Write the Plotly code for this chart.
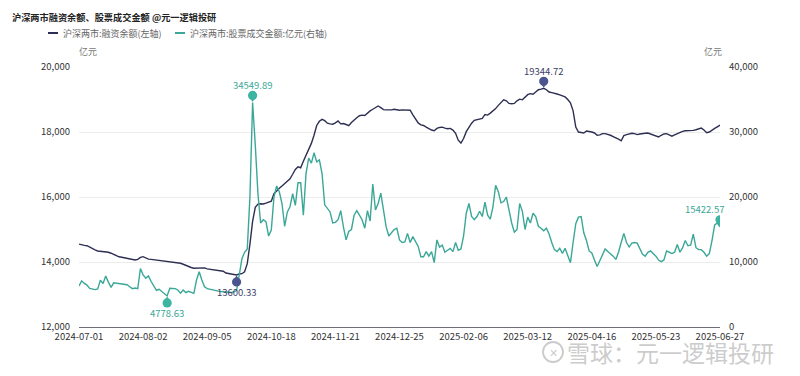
import pandas as pd
import numpy as np
import plotly.graph_objects as go

# ---------------- data ----------------
holidays = ["2024-09-16", "2024-09-17", "2024-10-01", "2024-10-02", "2024-10-03",
            "2024-10-04", "2024-10-07", "2025-01-01", "2025-01-28", "2025-01-29",
            "2025-01-30", "2025-01-31", "2025-02-03", "2025-02-04", "2025-04-04",
            "2025-05-01", "2025-05-02", "2025-05-05", "2025-06-02"]
dates = [d.strftime("%Y-%m-%d") for d in pd.bdate_range("2024-07-01", "2025-06-27")
         if d.strftime("%Y-%m-%d") not in holidays]

# 沪深两市:融资余额 (亿元, left axis)
margin = [
    14550, 14520, 14510, 14500, 14450, 14400, 14370, 14340, 14330, 14320,
    14315, 14300, 14270, 14230, 14200, 14160, 14145, 14130, 14110, 14090,
    14070, 14060, 14080, 14140, 14165, 14120, 14090, 14080, 14070, 14060,
    14045, 14040, 14030, 14015, 14010, 14000, 13985, 13970, 13960, 13930,
    13890, 13860, 13830, 13810, 13815, 13830, 13837, 13820, 13790, 13775,
    13770, 13760, 13745, 13730, 13715, 13660, 13650, 13640, 13620, 13600.33,
    13630, 13640, 13700, 13950, 14550, 15250, 15680, 15780, 15790, 15785,
    15810, 15840, 15870, 16100, 16200, 16270, 16340, 16410, 16480, 16560,
    16700, 16850, 16930, 16900, 17100, 17280, 17420, 17650, 17900, 18200,
    18330, 18390, 18350, 18270, 18250, 18240, 18280, 18340, 18250, 18260,
    18230, 18195, 18290, 18380, 18440, 18500, 18520, 18510, 18590, 18650,
    18700, 18760, 18800, 18750, 18690, 18680, 18670, 18680, 18700, 18680,
    18670, 18680, 18670, 18680, 18670, 18530, 18400, 18280, 18220, 18200,
    18150, 18100, 18060, 18040, 18110, 18140, 18150, 18120, 18100, 18110,
    18060, 17960, 17750, 17660, 17800, 18010, 18150, 18270, 18360, 18380,
    18380, 18420, 18540, 18520, 18580, 18650, 18720, 18820, 18900, 18990,
    18960, 18880, 18870, 18880, 18960, 19010, 18990, 19060, 19150, 19180,
    19160, 19230, 19300, 19320, 19344.72, 19300, 19230, 19210, 19200, 19170,
    19140, 19110, 19080, 19000, 18900, 18650, 18150, 18000, 17990, 17970,
    18030, 18020, 18000, 17970, 17900, 17910, 17950, 17950, 17930, 17900,
    17860, 17830, 17780, 17730, 17890, 17920, 17950, 17960, 17950, 17920,
    17940, 17960, 17960, 17970, 17940, 17910, 17880, 17850, 17900, 17940,
    17950, 17900, 17870, 17910, 17950, 17990, 18020, 18040, 18040, 18060,
    18050, 18070, 18100, 18120, 18060, 17980, 18000, 18070, 18110, 18160,
    18210,
]

# 沪深两市:股票成交金额 (亿元, right axis)
turnover = [
    6300, 7100, 6700, 6450, 5950, 5800, 5750, 5850, 7200, 6700,
    7850, 6900, 6100, 6800, 6750, 6700, 6700, 6650, 6500, 6200,
    5900, 6000, 5900, 9000, 8000, 7500, 7850, 7000, 6200, 5650,
    5800, 5500, 5185, 4778.63, 5950, 5900, 5900, 5700, 5200, 5700,
    5300, 5500, 5400, 5185, 7230, 8500, 7230, 6200, 5900, 5800,
    5700, 5600, 5550, 5450, 5430, 5350, 5280, 5300, 5400, 5600,
    8000, 10500, 11500, 12000, 20000, 34549.89, 28000, 20500, 16000, 16500,
    16200, 14000, 14900, 20000, 21700, 20800, 19000, 15500, 17700, 18500,
    20500, 18700, 22200, 22200, 17200, 23600, 26000, 25200, 26800, 25400,
    25700, 23600, 18800, 18300, 17700, 16000, 16100, 16500, 17900, 15400,
    13400, 14700, 15000, 17200, 17900, 17200, 16500, 15200, 17900, 16300,
    22000, 18000, 19000, 20600, 17800, 15400, 14000, 14600, 15000, 15200,
    13400, 13000, 13100, 14400, 13000, 13900, 13200, 12400, 10800, 10800,
    11600, 10900, 11600, 9900, 13400, 12300, 12600, 11500, 11800, 12100,
    11600, 13000, 11800, 12000, 14000, 17500, 19000, 17000, 16500, 17000,
    17800, 17000, 19200, 17200, 16600, 18500, 21800, 20800, 19100, 19300,
    20000, 18000, 16000, 14600, 15000, 19000, 17800, 15000, 16900, 16000,
    17500, 17000, 15500, 15200, 14800, 15200, 14300, 13000, 11900, 11600,
    12100, 11300, 12100, 11000, 9900, 13000, 15900, 16900, 17000, 14500,
    13300, 11700, 11400, 10300, 9300, 10200, 11000, 12000, 11600, 11300,
    10900, 10400, 11500, 13000, 14400, 13000, 12300, 12900, 13000, 12900,
    12000, 11200, 10900, 11500, 11700, 11300, 10900, 10300, 10050, 10300,
    11700, 11500, 11300, 11500, 12700, 11500, 12200, 13300, 12500, 12600,
    14300, 12200, 11900, 11900, 11500, 10900, 11300, 13300, 15700, 16000,
    15422.57,
]

name_margin = "沪深两市:融资余额(左轴)"
name_turnover = "沪深两市:股票成交金额:亿元(右轴)"
title_text = "沪深两市融资余额、股票成交金额 @元一逻辑投研"
tick_dates = dates[::24]

# ---------------- style ----------------
NAVY = "#2d2f52"
NAVY_PIN = "#4a5590"
TEAL = "#3aa797"
TEAL_PIN = "#3db3a2"
FONT = "Noto Sans CJK SC"
OFF = 8                       # default page body margin of the html page
VW, VH = 800, 376             # viewport
PL, PR, PT, PB = 79, 720, 67, 327   # plot area in page pixels
W, H = VW - OFF, VH - OFF
L, T = PL - OFF, PT - OFF
R, B = OFF + W - PR, OFF + H - PB
PW, PH = PR - PL, PB - PT


def px_x(px):
    return (px - PL) / PW


def px_y(py):
    return (PB - py) / PH


fig = go.Figure()
fig.add_trace(go.Scatter(x=dates, y=margin, mode="lines", name=name_margin,
                         line=dict(color=NAVY, width=1.4), yaxis="y"))
fig.add_trace(go.Scatter(x=dates, y=turnover, mode="lines", name=name_turnover,
                         line=dict(color=TEAL, width=1.4), yaxis="y2"))

shapes = []
annotations = []


def add_pin(i, series, yref, color, label_color, up=True):
    d, v = dates[i], series[i]
    s = 1 if up else -1
    shapes.append(dict(type="circle", xref="x", yref=yref, xsizemode="pixel", ysizemode="pixel",
                       xanchor=d, yanchor=v, x0=-4.6, x1=4.6,
                       y0=s * 2.4, y1=s * 11.6, fillcolor=color, line=dict(width=0)))
    shapes.append(dict(type="path", xref="x", yref=yref, xsizemode="pixel", ysizemode="pixel",
                       xanchor=d, yanchor=v,
                       path=f"M-3,{s*5} L3,{s*5} L0,{s*0.5} Z",
                       fillcolor=color, line=dict(width=0)))
    annotations.append(dict(x=d, y=v, xref="x", yref=yref, showarrow=False,
                            text=f"{v:.2f}", yshift=s * 17.5,
                            font=dict(family=FONT, size=9.5, color=label_color)))


im_max = int(np.argmax(margin)); im_min = int(np.argmin(margin))
it_max = int(np.argmax(turnover)); it_min = int(np.argmin(turnover))
it_last = len(turnover) - 1

add_pin(im_max, margin, "y", NAVY_PIN, "#3a4068", up=True)
add_pin(im_min, margin, "y", NAVY_PIN, "#3a4068", up=False)
add_pin(it_max, turnover, "y2", TEAL_PIN, "#3aa797", up=True)
add_pin(it_min, turnover, "y2", TEAL_PIN, "#3aa797", up=False)
add_pin(it_last, turnover, "y2", TEAL_PIN, "#3aa797", up=True)
annotations[-1]["xshift"] = -15

# title
annotations.append(dict(x=px_x(10), y=px_y(17), xref="paper", yref="paper", xanchor="left",
                        yanchor="middle", showarrow=False, text=f"<b>{title_text}</b>",
                        font=dict(family=FONT, size=9.2, color="#222")))
# legend (manual: swatch lines + labels)
for x0, color, label in [(48, NAVY, name_margin), (175, TEAL, name_turnover)]:
    shapes.append(dict(type="line", xref="paper", yref="paper",
                       x0=px_x(x0), x1=px_x(x0 + 10), y0=px_y(33), y1=px_y(33),
                       line=dict(color=color, width=2)))
    annotations.append(dict(x=px_x(x0 + 13), y=px_y(33), xref="paper", yref="paper",
                            xanchor="left", yanchor="middle", showarrow=False, text=label,
                            font=dict(family=FONT, size=9, color="#666")))
# axis names
annotations.append(dict(x=px_x(88), y=px_y(51), xref="paper", yref="paper", xanchor="center",
                        yanchor="middle", showarrow=False, text="亿元",
                        font=dict(family=FONT, size=9, color="#777")))
annotations.append(dict(x=px_x(713), y=px_y(51), xref="paper", yref="paper", xanchor="center",
                        yanchor="middle", showarrow=False, text="亿元",
                        font=dict(family=FONT, size=9, color="#777")))
# watermark
WM = "rgba(190,190,190,0.8)"
annotations.append(dict(x=px_x(565), y=px_y(352), xref="paper", yref="paper", xanchor="left",
                        yanchor="middle", showarrow=False, text="雪球：元一逻辑投研",
                        font=dict(family=FONT, size=23, color=WM)))
shapes.append(dict(type="circle", xref="paper", yref="paper",
                   x0=px_x(543), x1=px_x(563), y0=px_y(362), y1=px_y(342),
                   line=dict(color=WM, width=1.8)))
annotations.append(dict(x=px_x(553), y=px_y(352), xref="paper", yref="paper", xanchor="center",
                        yanchor="middle", showarrow=False, text="✕",
                        font=dict(family=FONT, size=11, color=WM)))

fig.update_layout(
    width=W, height=H,
    margin=dict(l=L, r=R, t=T, b=B, pad=0),
    paper_bgcolor="white", plot_bgcolor="white",
    showlegend=False,
    font=dict(family=FONT, size=9.5, color="#333"),
    xaxis=dict(type="category", range=[0, len(dates) - 1], tickmode="array",
               tickvals=tick_dates, ticktext=tick_dates, showgrid=False,
               showline=True, linecolor="#6e7079", linewidth=1, ticks="",
               tickfont=dict(family=FONT, size=9.5, color="#333"), tickangle=0,
               ticklabelstandoff=1),
    yaxis=dict(range=[12000, 20000], tickmode="linear", tick0=12000, dtick=2000,
               tickformat=",d", showgrid=True, gridcolor="#ececec", gridwidth=1,
               zeroline=False, showline=False, ticks="", ticklabelstandoff=8,
               tickfont=dict(family=FONT, size=9.5, color="#333")),
    yaxis2=dict(range=[0, 40000], tickmode="linear", tick0=0, dtick=10000,
                tickformat=",d", overlaying="y", side="right", showgrid=False,
                zeroline=False, showline=False, ticks="", ticklabelstandoff=8,
                tickfont=dict(family=FONT, size=9.5, color="#333")),
    shapes=shapes,
    annotations=annotations,
)

fig.write_html("out.html")
